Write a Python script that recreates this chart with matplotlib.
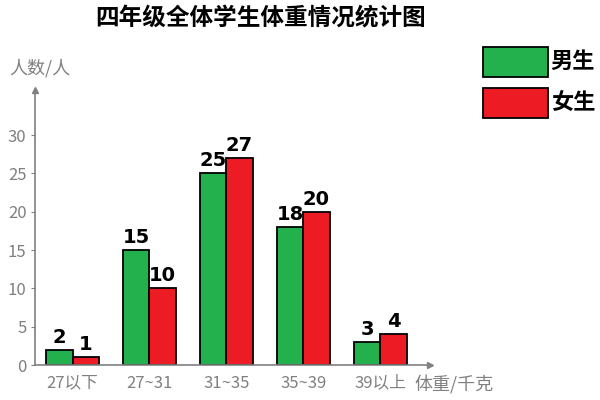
import numpy as np
import matplotlib
matplotlib.use("Agg")
import matplotlib.pyplot as plt
from matplotlib.patches import Rectangle

plt.rcParams['font.family'] = ['Noto Sans CJK SC', 'DejaVu Sans']

groups = ["27以下", "27~31", "31~35", "35~39", "39以上"]
boys = [2, 15, 25, 18, 3]
girls = [1, 10, 27, 20, 4]
yticks = [0, 5, 10, 15, 20, 25, 30]

GREEN = "#22b14c"
RED = "#ed1c24"
GRAY = "#808080"

fig = plt.figure(figsize=(6, 4), dpi=100)
ax = fig.add_axes([0.058, 0.0875, 0.658, 0.6875])

x = np.arange(len(groups))
w = 0.34
ax.bar(x - w / 2, boys, w, color=GREEN, edgecolor="black", linewidth=1.3)
ax.bar(x + w / 2, girls, w, color=RED, edgecolor="black", linewidth=1.3)

for i in range(len(groups)):
    ax.text(x[i] - w / 2, boys[i] + 0.4, str(boys[i]), ha="center", va="bottom",
            fontsize=14, fontweight="bold", family="DejaVu Sans")
    ax.text(x[i] + w / 2, girls[i] + 0.4, str(girls[i]), ha="center", va="bottom",
            fontsize=14, fontweight="bold", family="DejaVu Sans")

ax.set_xlim(-0.49, 4.64)
ax.set_ylim(0, 35.9)
ax.set_xticks(x)
ax.set_xticklabels(groups)
ax.set_yticks(yticks)
ax.tick_params(axis="x", length=0, pad=7, labelsize=12, labelcolor=GRAY)
ax.tick_params(axis="y", length=3, color=GRAY, pad=3, labelsize=12, labelcolor=GRAY)

for s in ["top", "right"]:
    ax.spines[s].set_visible(False)
for s in ["left", "bottom"]:
    ax.spines[s].set_color(GRAY)
    ax.spines[s].set_linewidth(1.2)
ax.plot(1, 0, ">", color=GRAY, markersize=4, transform=ax.transAxes, clip_on=False)
ax.plot(0, 1, "^", color=GRAY, markersize=4, transform=ax.transAxes, clip_on=False)

fig.text(0.015, 0.83, "人数/人", fontsize=13, color=GRAY, va="center", ha="left")
fig.text(0.69, 0.037, "体重/千克", fontsize=13, color=GRAY, va="center", ha="left")

fig.text(0.435, 0.955, "四年级全体学生体重情况统计图", fontsize=17, fontweight="bold",
         ha="center", va="center")

# legend boxes drawn by hand
for yb, col, lab in [(0.808, GREEN, "男生"), (0.705, RED, "女生")]:
    fig.patches.append(Rectangle((0.805, yb), 0.108, 0.075, facecolor=col,
                                 edgecolor="black", linewidth=1.3,
                                 transform=fig.transFigure))
    fig.text(0.918, yb + 0.0375, lab, fontsize=16, fontweight="bold",
             ha="left", va="center")

fig.savefig("out.png", dpi=100)
